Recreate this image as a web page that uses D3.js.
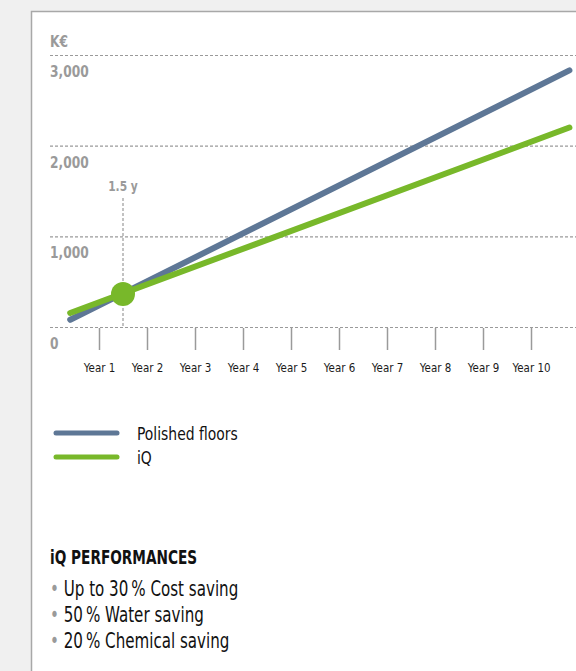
<!DOCTYPE html>
<html>
  <head>
    <meta charset="utf-8" />
    <title>Cost comparison</title>
    <script src="https://d3js.org/d3.v7.min.js"></script>
    <style>
      body { margin: 0; background: #f0f0f0; }
      svg text { font-family: "DejaVu Sans Condensed", "Liberation Sans Narrow", sans-serif; font-stretch: condensed; }
    </style>
  </head>
  <body>
    <svg id="chart"></svg>
    <script>
      // chart data
      var yearTicks = [1, 2, 3, 4, 5, 6, 7, 8, 9, 10];
      var valueTicks = [0, 1000, 2000, 3000];
      var polishedYears = [0.4, 10.8];
      var polishedValues = [80, 2830];
      var iqYears = [0.4, 10.8];
      var iqValues = [155, 2200];
      var breakEven = { year: 1.5, value: 365, label: "1.5 y" };
      var legendNames = ["Polished floors", "iQ"];
      var perfTitle = "iQ PERFORMANCES";
      var perfItems = ["Up to 30\u202f% Cost saving", "50\u202f% Water saving", "20\u202f% Chemical saving"];

      var width = 576, height = 671;
      var blue = "#5e7796", green = "#78b82a", grey = "#9a9a9a";

      var svg = d3.select("#chart").attr("width", width).attr("height", height);

      // narrow text: place at (tx, ty) and squeeze horizontally
      function narrow(sel, tx, ty, sx) {
        return sel.attr("transform", "translate(" + tx + "," + ty + ") scale(" + sx + ",1)");
      }

      // white panel
      svg.append("rect")
        .attr("x", 31.5).attr("y", 11.5)
        .attr("width", width).attr("height", height)
        .attr("fill", "#fff").attr("stroke", "#a8a8a8").attr("stroke-width", 1.5);

      var x = d3.scaleLinear().domain([1, 10]).range([99, 531]);
      var y = d3.scaleLinear().domain([0, 3000]).range([327, 55]);

      // y grid + labels
      var grid = svg.append("g");
      grid.selectAll("line").data(valueTicks).enter().append("line")
        .attr("x1", 50).attr("x2", width)
        .attr("y1", function(d) { return y(d) + 0.5; })
        .attr("y2", function(d) { return y(d) + 0.5; })
        .attr("stroke", grey).attr("stroke-width", 1.2).attr("stroke-dasharray", "3,2");
      grid.selectAll("text").data(valueTicks).enter().append("text")
        .attr("transform", function(d) { return "translate(50," + (y(d) + 22) + ") scale(0.85,1)"; })
        .attr("fill", grey).attr("font-size", 16).attr("font-weight", "bold")
        .text(function(d) { return d3.format(",")(d); });
      narrow(svg.append("text"), 50, 47, 0.85)
        .attr("fill", grey).attr("font-size", 16).attr("font-weight", "bold").text("K€");

      // x axis
      var xAxis = d3.axisBottom(x).tickValues(yearTicks).tickSize(22)
        .tickFormat(function(d) { return "Year " + d; });
      var gx = svg.append("g").attr("transform", "translate(0," + (y(0) + 1) + ")").call(xAxis);
      gx.select(".domain").remove();
      gx.selectAll(".tick line").attr("stroke", grey).attr("stroke-width", 1.5);
      gx.selectAll(".tick text").attr("y", 0).attr("dy", 0)
        .attr("transform", "translate(0,44) scale(0.88,1)")
        .attr("fill", "#1a1a1a").attr("font-size", 13).attr("font-family", null);

      // break-even marker
      svg.append("line")
        .attr("x1", x(breakEven.year)).attr("x2", x(breakEven.year))
        .attr("y1", 198).attr("y2", y(0))
        .attr("stroke", grey).attr("stroke-width", 1.2).attr("stroke-dasharray", "3,2");
      narrow(svg.append("text"), x(breakEven.year), 191, 0.85)
        .attr("text-anchor", "middle").attr("fill", grey).attr("font-size", 14).attr("font-weight", "bold")
        .text(breakEven.label);

      var line = d3.line()
        .x(function(d) { return x(d[0]); })
        .y(function(d) { return y(d[1]); });

      svg.append("path").datum(d3.zip(polishedYears, polishedValues))
        .attr("d", line).attr("fill", "none").attr("stroke", blue)
        .attr("stroke-width", 6).attr("stroke-linecap", "round");
      svg.append("path").datum(d3.zip(iqYears, iqValues))
        .attr("d", line).attr("fill", "none").attr("stroke", green)
        .attr("stroke-width", 6).attr("stroke-linecap", "round");

      svg.append("circle").attr("cx", x(breakEven.year)).attr("cy", y(breakEven.value))
        .attr("r", 12).attr("fill", green);

      // legend
      var legend = svg.selectAll(".legend").data(legendNames).enter().append("g")
        .attr("class", "legend")
        .attr("transform", function(d, i) { return "translate(0," + (433 + i * 24) + ")"; });
      legend.append("line").attr("x1", 56).attr("x2", 117)
        .attr("stroke", function(d, i) { return i === 0 ? blue : green; })
        .attr("stroke-width", 5).attr("stroke-linecap", "round");
      legend.append("text").attr("transform", "translate(137,7) scale(0.86,1)")
        .attr("font-size", 18).attr("fill", "#111").text(function(d) { return d; });

      // performances
      narrow(svg.append("text"), 50, 564, 0.8)
        .attr("font-size", 19).attr("font-weight", "bold").attr("fill", "#111").text(perfTitle);
      var items = svg.selectAll(".perf").data(perfItems).enter().append("text")
        .attr("class", "perf")
        .attr("transform", function(d, i) { return "translate(50," + (596 + i * 26) + ") scale(0.8,1)"; })
        .attr("font-size", 21).attr("fill", "#111");
      items.append("tspan").attr("fill", grey).text("• ");
      items.append("tspan").text(function(d) { return d; });
    </script>
  </body>
</html>
